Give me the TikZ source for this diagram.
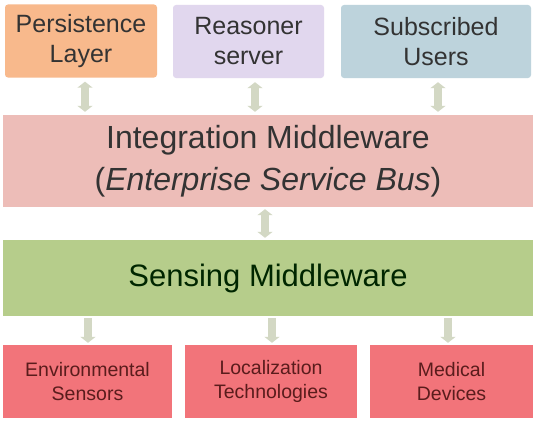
\documentclass[tikz,border=0pt]{standalone}
\usepackage{fontspec}
\setmainfont{Liberation Sans}
\usetikzlibrary{arrows.meta}
\definecolor{cOrange}{HTML}{F8B98C}
\definecolor{cLav}{HTML}{E1D7EE}
\definecolor{cBlue}{HTML}{BDD3DC}
\definecolor{cPink}{HTML}{EDBDB8}
\definecolor{cGreen}{HTML}{B6CD8B}
\definecolor{cRed}{HTML}{F2747A}
\definecolor{cArrow}{HTML}{D3D8C4}
\definecolor{cTxt}{HTML}{333333}
\definecolor{cRedTxt}{HTML}{5A1C1C}
\tikzset{
  topbox/.style={rounded corners=3pt, inner sep=0pt, align=center, text=cTxt,
    font=\fontsize{25}{30}\selectfont, minimum height=73pt},
  bigbox/.style={inner sep=0pt, align=center, minimum width=530pt},
  lowbox/.style={inner sep=0pt, align=center, fill=cRed, text=cRedTxt,
    minimum height=73pt, font=\fontsize{19.5}{24}\selectfont},
  blockarr/.style={draw=cArrow, line width=8pt,
    {Triangle[width=15pt,length=6pt]}-{Triangle[width=15pt,length=6pt]}},
  downarr/.style={draw=cArrow, line width=8pt, -{Triangle[width=15pt,length=6pt]}}
}
\begin{document}
\begin{tikzpicture}[x=1pt,y=-1pt]
\useasboundingbox (0,0) rectangle (537,420);
\fill[white] (0,0) rectangle (537,420);
\node[topbox, fill=cOrange, minimum width=152pt] (pers) at (81,41) {Persistence\\Layer};
\node[topbox, fill=cLav, minimum width=151pt] (reas) at (248.5,41.5) {Reasoner\\server};
\node[topbox, fill=cBlue, minimum width=190pt] (subs) at (436,41.5) {Subscribed\\Users};
\node[bigbox, fill=cPink, minimum height=92pt, text=cTxt, font=\fontsize{32}{42}\selectfont] (integ) at (268,161)
  {Integration Middleware\\(\textit{Enterprise Service Bus})};
\node[bigbox, fill=cGreen, minimum height=76pt, text=black!85!green, font=\fontsize{31}{38}\selectfont] (sens) at (268,278)
  {Sensing Middleware};
\node[lowbox, minimum width=169pt] (env) at (87.5,381.5) {Environmental\\Sensors};
\node[lowbox, minimum width=172pt] (loc) at (271,381.5) {Localization\\Technologies};
\node[lowbox, minimum width=163pt] (med) at (451.5,381.5) {Medical\\Devices};
\draw[blockarr] ([yshift=-4pt]pers.south -| 85,0) -- ([yshift=3pt]integ.north -| 85,0);
\draw[blockarr] ([yshift=-4pt]reas.south -| 255,0) -- ([yshift=3pt]integ.north -| 255,0);
\draw[blockarr] ([yshift=-4pt]subs.south -| 438,0) -- ([yshift=3pt]integ.north -| 438,0);
\draw[blockarr] ([yshift=-2pt]integ.south -| 265,0) -- ([yshift=2pt]sens.north -| 265,0);
\draw[downarr] ([yshift=-2pt]sens.south -| 88,0) -- ([yshift=2pt]env.north -| 88,0);
\draw[downarr] ([yshift=-2pt]sens.south -| 272,0) -- ([yshift=2pt]loc.north -| 272,0);
\draw[downarr] ([yshift=-2pt]sens.south -| 448,0) -- ([yshift=2pt]med.north -| 448,0);
\end{tikzpicture}
\end{document}
